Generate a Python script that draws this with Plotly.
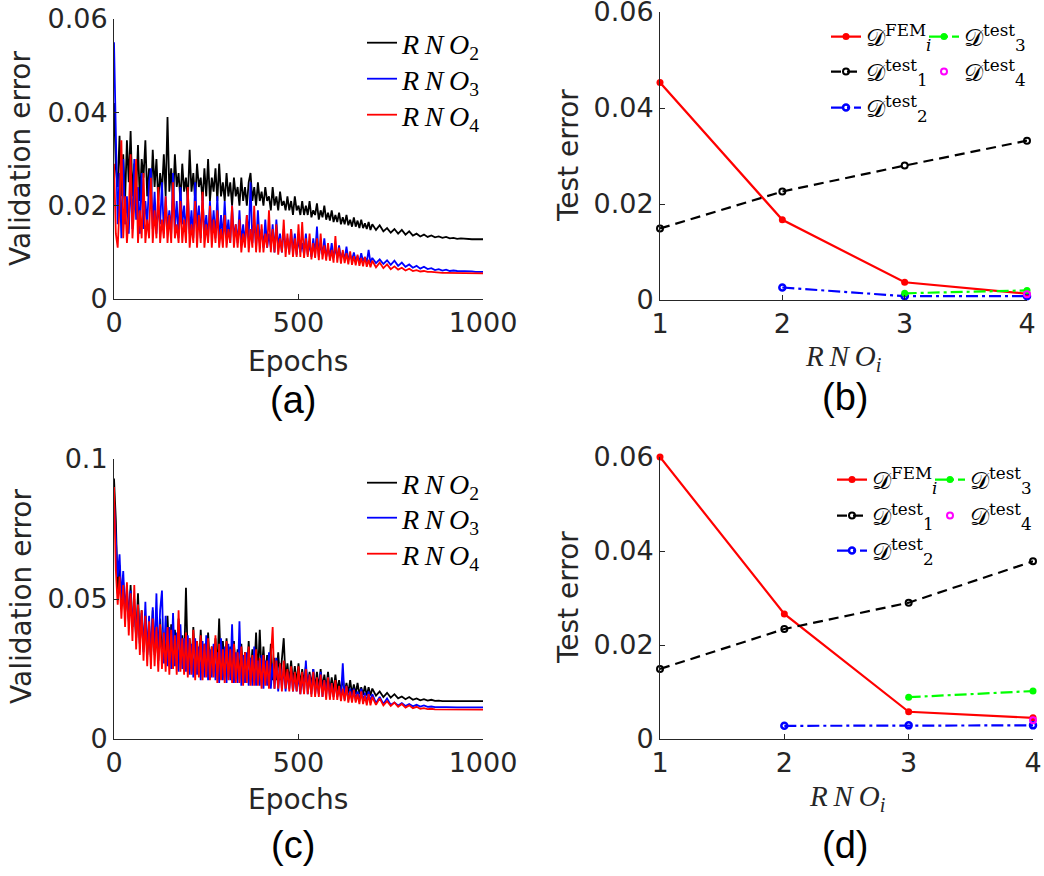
import plotly.graph_objects as go

# ---------------- data ----------------
# epochs: every 5 epochs up to 700, then every 10 epochs
epochs = list(range(0, 701, 5)) + list(range(710, 1001, 10))

val_a_rno2 = [
    0.042, 0.028, 0.024, 0.035, 0.022, 0.031, 0.021, 0.034, 0.025, 0.036,
    0.022, 0.029, 0.023, 0.033, 0.021, 0.030, 0.026, 0.034, 0.022, 0.028,
    0.021, 0.032, 0.024, 0.030, 0.021, 0.027, 0.023, 0.031, 0.022, 0.039,
    0.023, 0.028, 0.021, 0.031, 0.024, 0.027, 0.021, 0.029, 0.023, 0.026,
    0.021, 0.032, 0.023, 0.027, 0.021, 0.029, 0.024, 0.026, 0.021, 0.028,
    0.022, 0.030, 0.021, 0.026, 0.023, 0.028, 0.021, 0.029, 0.022, 0.025,
    0.021, 0.027, 0.022, 0.025, 0.020, 0.026, 0.022, 0.024, 0.020, 0.026,
    0.021, 0.024, 0.020, 0.025, 0.027, 0.021, 0.024, 0.020, 0.025, 0.021,
    0.023, 0.020, 0.024, 0.021, 0.022, 0.019, 0.024, 0.020, 0.022, 0.019,
    0.023, 0.020, 0.021, 0.019, 0.022, 0.019, 0.021, 0.018, 0.022, 0.019,
    0.020, 0.018, 0.021, 0.018, 0.020, 0.018, 0.021, 0.0175, 0.019, 0.018,
    0.0205, 0.017, 0.019, 0.0175, 0.020, 0.017, 0.0185, 0.0168, 0.019, 0.0165,
    0.018, 0.0165, 0.0185, 0.016, 0.0175, 0.016, 0.018, 0.0158, 0.017, 0.0155,
    0.0175, 0.0155, 0.0168, 0.0152, 0.017, 0.0152, 0.0162, 0.015, 0.0165, 0.0148,
    0.016,
    0.0148, 0.0158, 0.0145, 0.0152, 0.0142, 0.015, 0.014, 0.0148, 0.0138, 0.0145,
    0.0136, 0.014, 0.0134, 0.0138, 0.0133, 0.0136, 0.0132, 0.0134, 0.0131, 0.0133,
    0.013, 0.0131, 0.0129, 0.013, 0.0129, 0.0129, 0.0128, 0.0128, 0.0128, 0.0128]
val_a_rno3 = [
    0.055, 0.035, 0.016, 0.027, 0.013, 0.030, 0.016, 0.022, 0.014, 0.026,
    0.015, 0.030, 0.017, 0.024, 0.014, 0.027, 0.015, 0.021, 0.016, 0.025,
    0.028, 0.015, 0.023, 0.014, 0.020, 0.016, 0.025, 0.014, 0.022, 0.015,
    0.019, 0.014, 0.027, 0.015, 0.021, 0.013, 0.024, 0.016, 0.020, 0.014,
    0.023, 0.014, 0.019, 0.013, 0.025, 0.015, 0.020, 0.013, 0.022, 0.014,
    0.018, 0.013, 0.021, 0.014, 0.019, 0.013, 0.022, 0.012, 0.018, 0.013,
    0.021, 0.013, 0.017, 0.012, 0.020, 0.013, 0.016, 0.012, 0.019, 0.012,
    0.016, 0.012, 0.018, 0.013, 0.025, 0.012, 0.017, 0.011, 0.019, 0.012,
    0.015, 0.011, 0.017, 0.011, 0.014, 0.011, 0.016, 0.010, 0.017, 0.011,
    0.014, 0.010, 0.015, 0.011, 0.013, 0.010, 0.015, 0.010, 0.014, 0.0095,
    0.013, 0.010, 0.012, 0.0095, 0.014, 0.0095, 0.012, 0.009, 0.013, 0.0095,
    0.0155, 0.009, 0.012, 0.0095, 0.013, 0.009, 0.011, 0.009, 0.012, 0.0088,
    0.011, 0.0088, 0.0115, 0.0086, 0.010, 0.0085, 0.0112, 0.0084, 0.0095, 0.0083,
    0.010, 0.0082, 0.0092, 0.008, 0.0098, 0.0081, 0.009, 0.0079, 0.0105, 0.0078,
    0.0088,
    0.0077, 0.0085, 0.0075, 0.0083, 0.0073, 0.0082, 0.0071, 0.0078, 0.0069, 0.0074,
    0.0067, 0.0071, 0.0065, 0.0069, 0.0064, 0.0066, 0.0062, 0.0064, 0.0061, 0.0063,
    0.006, 0.0061, 0.006, 0.006, 0.0059, 0.0059, 0.0059, 0.0058, 0.0058, 0.0058]
val_a_rno4 = [
    0.029, 0.014, 0.011, 0.020, 0.034, 0.013, 0.022, 0.012, 0.018, 0.031,
    0.013, 0.020, 0.030, 0.012, 0.019, 0.013, 0.027, 0.012, 0.017, 0.013,
    0.026, 0.012, 0.019, 0.013, 0.024, 0.012, 0.017, 0.013, 0.022, 0.012,
    0.018, 0.012, 0.025, 0.013, 0.016, 0.012, 0.021, 0.012, 0.017, 0.012,
    0.024, 0.011, 0.016, 0.012, 0.021, 0.011, 0.018, 0.012, 0.023, 0.011,
    0.016, 0.012, 0.020, 0.011, 0.017, 0.012, 0.019, 0.011, 0.015, 0.011,
    0.018, 0.011, 0.015, 0.012, 0.020, 0.011, 0.016, 0.011, 0.017, 0.010,
    0.014, 0.011, 0.018, 0.010, 0.015, 0.011, 0.020, 0.010, 0.016, 0.010,
    0.016, 0.010, 0.014, 0.011, 0.019, 0.010, 0.015, 0.010, 0.016, 0.0095,
    0.013, 0.010, 0.017, 0.009, 0.014, 0.0095, 0.015, 0.009, 0.013, 0.009,
    0.016, 0.009, 0.0165, 0.0088, 0.013, 0.009, 0.014, 0.0085, 0.012, 0.0088,
    0.013, 0.0083, 0.014, 0.0085, 0.0115, 0.0082, 0.012, 0.0082, 0.0105, 0.0078,
    0.0135, 0.0078, 0.011, 0.0076, 0.0105, 0.0077, 0.0098, 0.0074, 0.0102, 0.0073,
    0.0092, 0.0072, 0.0095, 0.0071, 0.0088, 0.007, 0.009, 0.0069, 0.0084, 0.0068,
    0.0082,
    0.0068, 0.0078, 0.0066, 0.0074, 0.0064, 0.007, 0.0063, 0.0067, 0.0061, 0.0065,
    0.006, 0.0062, 0.0059, 0.006, 0.0058, 0.0058, 0.0057, 0.0057, 0.0056, 0.0056,
    0.0056, 0.0055, 0.0055, 0.0055, 0.0055, 0.0055, 0.0055, 0.0055, 0.0055, 0.0055]

val_c_rno2 = [
    0.093, 0.078, 0.052, 0.062, 0.048, 0.056, 0.045, 0.052, 0.043, 0.055,
    0.040, 0.048, 0.036, 0.052, 0.034, 0.046, 0.032, 0.044, 0.030, 0.041,
    0.029, 0.046, 0.031, 0.040, 0.028, 0.043, 0.030, 0.038, 0.027, 0.044,
    0.028, 0.041, 0.027, 0.039, 0.029, 0.043, 0.027, 0.037, 0.026, 0.054,
    0.027, 0.036, 0.026, 0.040, 0.027, 0.035, 0.025, 0.039, 0.026, 0.034,
    0.025, 0.038, 0.026, 0.033, 0.024, 0.036, 0.025, 0.043, 0.024, 0.035,
    0.025, 0.036, 0.024, 0.033, 0.023, 0.035, 0.024, 0.032, 0.023, 0.034,
    0.024, 0.031, 0.023, 0.035, 0.022, 0.032, 0.023, 0.038, 0.022, 0.039,
    0.023, 0.033, 0.022, 0.030, 0.022, 0.034, 0.021, 0.029, 0.021, 0.031,
    0.021, 0.028, 0.036, 0.021, 0.027, 0.020, 0.028, 0.020, 0.026, 0.020,
    0.027, 0.019, 0.025, 0.020, 0.026, 0.019, 0.024, 0.019, 0.025, 0.018,
    0.024, 0.018, 0.025, 0.018, 0.023, 0.018, 0.024, 0.017, 0.022, 0.017,
    0.023, 0.017, 0.021, 0.017, 0.022, 0.0165, 0.020, 0.0165, 0.021, 0.016,
    0.0195, 0.016, 0.020, 0.016, 0.0185, 0.0158, 0.019, 0.0155, 0.0185, 0.0155,
    0.018,
    0.0155, 0.017, 0.015, 0.0165, 0.0148, 0.016, 0.0145, 0.0152, 0.0142, 0.015,
    0.014, 0.0145, 0.0138, 0.0142, 0.0137, 0.014, 0.0136, 0.0137, 0.0135, 0.0136,
    0.0135, 0.0135, 0.0135, 0.0135, 0.0135, 0.0135, 0.0135, 0.0135, 0.0135, 0.0135]
val_c_rno3 = [
    0.085, 0.070, 0.058, 0.066, 0.050, 0.060, 0.045, 0.055, 0.042, 0.053,
    0.040, 0.050, 0.036, 0.048, 0.034, 0.045, 0.031, 0.049, 0.030, 0.044,
    0.029, 0.047, 0.030, 0.052, 0.028, 0.046, 0.053, 0.027, 0.044, 0.026,
    0.040, 0.025, 0.045, 0.026, 0.038, 0.024, 0.041, 0.025, 0.036, 0.024,
    0.037, 0.023, 0.034, 0.022, 0.036, 0.023, 0.033, 0.021, 0.035, 0.022,
    0.037, 0.021, 0.032, 0.022, 0.034, 0.021, 0.031, 0.020, 0.036, 0.021,
    0.033, 0.020, 0.034, 0.021, 0.041, 0.020, 0.031, 0.020, 0.042, 0.019,
    0.030, 0.020, 0.031, 0.019, 0.029, 0.019, 0.033, 0.019, 0.028, 0.019,
    0.030, 0.018, 0.028, 0.019, 0.031, 0.018, 0.027, 0.018, 0.029, 0.017,
    0.027, 0.018, 0.026, 0.017, 0.024, 0.018, 0.025, 0.017, 0.023, 0.017,
    0.023, 0.016, 0.022, 0.017, 0.028, 0.016, 0.023, 0.016, 0.025, 0.016,
    0.021, 0.016, 0.024, 0.015, 0.021, 0.016, 0.022, 0.015, 0.020, 0.015,
    0.020, 0.015, 0.018, 0.015, 0.027, 0.014, 0.019, 0.014, 0.018, 0.014,
    0.018, 0.0138, 0.017, 0.0135, 0.018, 0.0133, 0.0165, 0.013, 0.017, 0.013,
    0.016,
    0.0128, 0.015, 0.0125, 0.0145, 0.0122, 0.013, 0.012, 0.0128, 0.0118, 0.0125,
    0.0117, 0.0122, 0.0116, 0.012, 0.0115, 0.0116, 0.0114, 0.0115, 0.0114, 0.0114,
    0.0113, 0.0113, 0.0113, 0.0113, 0.0113, 0.0113, 0.0113, 0.0113, 0.0113, 0.0113]
val_c_rno4 = [
    0.090, 0.060, 0.048, 0.058, 0.043, 0.055, 0.040, 0.056, 0.037, 0.052,
    0.035, 0.055, 0.032, 0.048, 0.030, 0.046, 0.028, 0.044, 0.026, 0.042,
    0.025, 0.043, 0.026, 0.040, 0.024, 0.041, 0.025, 0.038, 0.024, 0.040,
    0.023, 0.039, 0.025, 0.037, 0.023, 0.046, 0.024, 0.036, 0.023, 0.038,
    0.022, 0.036, 0.023, 0.039, 0.021, 0.035, 0.022, 0.037, 0.021, 0.034,
    0.022, 0.036, 0.021, 0.033, 0.022, 0.037, 0.020, 0.034, 0.021, 0.032,
    0.020, 0.035, 0.021, 0.032, 0.020, 0.034, 0.020, 0.031, 0.020, 0.033,
    0.019, 0.031, 0.020, 0.033, 0.019, 0.030, 0.019, 0.032, 0.019, 0.029,
    0.018, 0.030, 0.019, 0.028, 0.018, 0.031, 0.040, 0.018, 0.028, 0.018,
    0.027, 0.017, 0.028, 0.018, 0.025, 0.017, 0.026, 0.017, 0.024, 0.017,
    0.026, 0.016, 0.024, 0.016, 0.025, 0.016, 0.023, 0.015, 0.024, 0.015,
    0.022, 0.015, 0.023, 0.015, 0.021, 0.014, 0.022, 0.014, 0.020, 0.014,
    0.021, 0.014, 0.019, 0.0135, 0.018, 0.0135, 0.019, 0.013, 0.017, 0.013,
    0.0175, 0.013, 0.016, 0.0125, 0.017, 0.0125, 0.0155, 0.012, 0.016, 0.012,
    0.015,
    0.0122, 0.0145, 0.012, 0.0135, 0.0118, 0.013, 0.0115, 0.0125, 0.0112, 0.012,
    0.011, 0.0115, 0.0108, 0.011, 0.0107, 0.0108, 0.0106, 0.0106, 0.0105, 0.0105,
    0.0105, 0.0105, 0.0105, 0.0105, 0.0105, 0.0105, 0.0105, 0.0105, 0.0105, 0.0105]

rno_idx = [1, 2, 3, 4]
b_fem = [0.0453, 0.0167, 0.0037, 0.0013]
b_t1 = [0.0149, 0.0226, 0.0280, 0.0332]
b_t2_x = [2, 3, 4]
b_t2 = [0.0026, 0.0008, 0.0008]
b_t3_x = [3, 4]
b_t3 = [0.0014, 0.0020]
b_t4_x = [4]
b_t4 = [0.0012]

d_fem = [0.0600, 0.0266, 0.0058, 0.0045]
d_t1 = [0.0149, 0.0234, 0.0290, 0.0378]
d_t2_x = [2, 3, 4]
d_t2 = [0.0028, 0.0029, 0.0029]
d_t3_x = [3, 4]
d_t3 = [0.0089, 0.0102]
d_t4_x = [4]
d_t4 = [0.0040]

TS = "\u2009"  # thin space, mimics math-italic letter spacing
rno = "<i>R" + TS + "N" + TS + "O</i>"
val_names = [rno + "<sub>2</sub>", rno + "<sub>3</sub>", rno + "<sub>4</sub>"]
val_colors = ["#000000", "#0000ff", "#ff0000"]
D = "\U0001D49F"
test_names = [D + "<sup>FEM</sup><sub><i>i</i></sub>",
              D + "<sup>test</sup><sub>1</sub>",
              D + "<sup>test</sup><sub>2</sub>",
              D + "<sup>test</sup><sub>3</sub>",
              D + "<sup>test</sup><sub>4</sub>"]

for s in (val_a_rno2, val_a_rno3, val_a_rno4, val_c_rno2, val_c_rno3, val_c_rno4):
    assert len(s) == len(epochs), len(s)

# ---------------- figure ----------------
W, H = 1044, 876
fig = go.Figure()


def px_x(p):
    return p / W


def px_y(p):
    return 1 - p / H


axis_col = "#262626"
val_leg_font = dict(family="Liberation Serif", size=28, color="#000000")
test_leg_font = dict(family="DejaVu Serif", size=24, color="#000000")

legends = {}
counter = [0]


def new_legend(x, y, font):
    counter[0] += 1
    key = "legend" if counter[0] == 1 else "legend%d" % counter[0]
    legends[key] = dict(x=px_x(x), y=px_y(y), xanchor="left", yanchor="middle",
                        bgcolor="rgba(0,0,0,0)", borderwidth=0, font=font,
                        itemwidth=30)
    return key


# validation panels: one legend entry per trace, placed at its reference row
val_rows_a = [43, 79, 115]
val_rows_c = [483, 518, 554]
for series, ax, rows in [((val_a_rno2, val_a_rno3, val_a_rno4), "", val_rows_a),
                         ((val_c_rno2, val_c_rno3, val_c_rno4), "3", val_rows_c)]:
    for ys, name, col, ry in zip(series, val_names, val_colors, rows):
        lg = new_legend(362, ry, val_leg_font)
        fig.add_trace(go.Scatter(x=epochs, y=ys, mode="lines", name=name,
                                 line=dict(color=col, width=1.8),
                                 xaxis="x" + ax, yaxis="y" + ax, legend=lg))


def add_test(ax, fem, t1, t2x, t2, t3x, t3, t4x, t4, c1x, c2x, rows):
    fig.add_trace(go.Scatter(x=rno_idx, y=fem, mode="lines+markers", name=test_names[0],
                             line=dict(color="#ff0000", width=2.2),
                             marker=dict(symbol="circle", size=7, color="#ff0000"),
                             xaxis="x" + ax, yaxis="y" + ax, cliponaxis=False,
                             legend=new_legend(c1x, rows[0], test_leg_font)))
    fig.add_trace(go.Scatter(x=rno_idx, y=t1, mode="lines+markers", name=test_names[1],
                             line=dict(color="#000000", width=2.2, dash="10px,6px"),
                             marker=dict(symbol="circle-open", size=6, color="#000000",
                                         line=dict(width=2)),
                             xaxis="x" + ax, yaxis="y" + ax, cliponaxis=False,
                             legend=new_legend(c1x, rows[1], test_leg_font)))
    fig.add_trace(go.Scatter(x=t2x, y=t2, mode="lines+markers", name=test_names[2],
                             line=dict(color="#0000ff", width=2.2, dash="12px,4px,3px,4px"),
                             marker=dict(symbol="circle-open", size=6, color="#0000ff",
                                         line=dict(width=2.5)),
                             xaxis="x" + ax, yaxis="y" + ax, cliponaxis=False,
                             legend=new_legend(c1x, rows[2], test_leg_font)))
    fig.add_trace(go.Scatter(x=t3x, y=t3, mode="lines+markers", name=test_names[3],
                             line=dict(color="#00ff00", width=2.2, dash="12px,4px,3px,4px"),
                             marker=dict(symbol="circle", size=7, color="#00ff00"),
                             xaxis="x" + ax, yaxis="y" + ax, cliponaxis=False,
                             legend=new_legend(c2x, rows[0], test_leg_font)))
    fig.add_trace(go.Scatter(x=t4x, y=t4, mode="markers", name=test_names[4],
                             marker=dict(symbol="circle-open", size=6, color="#ff00ff",
                                         line=dict(width=2)),
                             xaxis="x" + ax, yaxis="y" + ax, cliponaxis=False,
                             legend=new_legend(c2x, rows[1], test_leg_font)))


add_test("2", b_fem, b_t1, b_t2_x, b_t2, b_t3_x, b_t3, b_t4_x, b_t4, 826, 924, [37, 72, 108])
add_test("4", d_fem, d_t1, d_t2_x, d_t2, d_t3_x, d_t3, d_t4_x, d_t4, 832, 930, [480, 516, 551])

tickfont = dict(family="DejaVu Sans", size=27, color=axis_col)
base_axis = dict(showline=True, linecolor=axis_col, linewidth=1, ticks="inside",
                 ticklen=5, tickcolor=axis_col, showgrid=False, zeroline=False,
                 tickfont=tickfont, mirror=False, automargin=False,
                 ticklabeloverflow="allow")


def xa(d0, d1, anchor, rng, tv):
    return dict(base_axis, domain=[px_x(d0), px_x(d1)], anchor=anchor, range=rng,
                tickvals=tv)


def ya(d0, d1, anchor, rng, tv, tt):
    return dict(base_axis, domain=[px_y(d1), px_y(d0)], anchor=anchor, range=rng,
                tickvals=tv, ticktext=tt)


fig.update_layout(
    template="none",
    width=W, height=H, margin=dict(l=0, r=0, t=0, b=0, pad=0),
    paper_bgcolor="white", plot_bgcolor="white",
    xaxis=xa(114, 483, "y", [0, 1000], [0, 500, 1000]),
    yaxis=ya(19, 299, "x", [0, 0.06], [0, 0.02, 0.04, 0.06], ["0", "0.02", "0.04", "0.06"]),
    xaxis2=xa(660, 1027, "y2", [1, 4], [1, 2, 3, 4]),
    yaxis2=ya(12, 300, "x2", [0, 0.06], [0, 0.02, 0.04, 0.06], ["0", "0.02", "0.04", "0.06"]),
    xaxis3=xa(114, 483, "y3", [0, 1000], [0, 500, 1000]),
    yaxis3=ya(459, 739, "x3", [0, 0.1], [0, 0.05, 0.1], ["0", "0.05", "0.1"]),
    xaxis4=xa(660, 1033, "y4", [1, 4], [1, 2, 3, 4]),
    yaxis4=ya(457, 739, "x4", [0, 0.06], [0, 0.02, 0.04, 0.06], ["0", "0.02", "0.04", "0.06"]),
    showlegend=True,
    **legends,
)

label_font = dict(family="DejaVu Sans", size=28, color=axis_col)
xlab_font = dict(family="Liberation Serif", size=29, color=axis_col)
panel_font = dict(family="Liberation Sans", size=38, color="#000000")
rno_i = rno + "<sub><i>i</i></sub>"
ann = [
    ("Validation error", 21, 159, -90, label_font),
    ("Epochs", 298, 361, 0, label_font),
    ("(a)", 293, 400, 0, panel_font),
    ("Test error", 568, 156, -90, label_font),
    (rno_i, 843, 358, 0, xlab_font),
    ("(b)", 845, 397, 0, panel_font),
    ("Validation error", 21, 597, -90, label_font),
    ("Epochs", 298, 799, 0, label_font),
    ("(c)", 293, 845, 0, panel_font),
    ("Test error", 568, 598, -90, label_font),
    (rno_i, 847, 798, 0, xlab_font),
    ("(d)", 845, 845, 0, panel_font),
]
fig.update_layout(annotations=[
    dict(text=t, x=px_x(x), y=px_y(y), xref="paper", yref="paper", showarrow=False,
         textangle=a, font=f, xanchor="center", yanchor="middle")
    for t, x, y, a, f in ann
])

fig.write_html("out.html",
               config={"displayModeBar": False},
               post_script="document.body.style.margin='0px';"
                           "document.body.style.overflow='hidden';")
